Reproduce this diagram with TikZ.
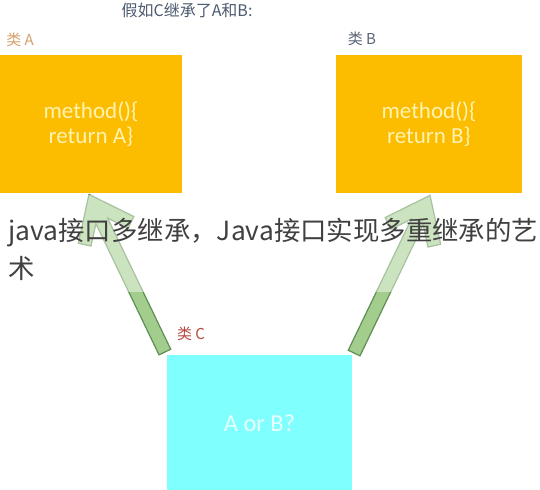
\documentclass[tikz,border=0pt]{standalone}
\usepackage{fontspec}
\setmainfont{Carlito}
\newfontfamily\cjk{Noto Sans CJK SC}
\usepackage{tikz}
\usetikzlibrary{calc}
\definecolor{boxorange}{HTML}{FCBC00}
\definecolor{boxcyan}{HTML}{80FFFF}
\definecolor{arrowgreen}{HTML}{A2CD8C}
\definecolor{arrowline}{HTML}{5F8F55}
\definecolor{titlegrey}{HTML}{4C5A6E}
\definecolor{labelA}{HTML}{D4A06A}
\definecolor{labelB}{HTML}{5A6475}
\definecolor{labelC}{HTML}{B5483F}
\definecolor{methodtext}{HTML}{FFF3B0}
\definecolor{ortext}{HTML}{E8FFFF}

\begin{document}
\begin{tikzpicture}[x=0.5pt,y=-0.5pt,
	classbox/.style={inner sep=0pt,align=center,font=\fontsize{11.5}{12.5}\selectfont},
	classlabel/.style={inner sep=0pt,font=\cjk\fontsize{7.5}{9}\selectfont},
	fatarrow/.style={fill=arrowgreen,draw=arrowline,line width=0.6pt,line join=miter}]
			\useasboundingbox (0,0) rectangle (540,490);
			%title
			\node[classlabel,text=titlegrey,font=\cjk\fontsize{8}{9}\selectfont] (title) at (187,10) {假如C继承了A和B:};
			
			%classes
			\node[classbox,fill=boxorange,text=methodtext,minimum width=91pt,minimum height=69pt] (boxA) at (91,124) {method()\{\\return A\}};
			\node[classbox,fill=boxorange,text=methodtext,minimum width=93pt,minimum height=69pt] (boxB) at (429,124) {method()\{\\return B\}};
			\node[classbox,fill=boxcyan,text=ortext,font=\fontsize{12.2}{14}\selectfont,minimum width=92.5pt,minimum height=68.5pt] (boxC) at (259.5,423.5) {A or B?};
			\node[classlabel,text=labelA] (labA) at (20,40) {类 A};
			\node[classlabel,text=labelB] (labB) at (362,39) {类 B};
			\node[classlabel,text=labelC] (labC) at (191,334) {类 C};
			
			%arrows C -> A, C -> B
			\coordinate (tipA) at ($(boxA.south)+(-2,1)$);
			\coordinate (tipB) at ($(boxB.south)+(1,2)$);
			\foreach \tip/\ang in {tipA/25.7,tipB/-25.7}{
				\begin{scope}[shift={(\tip)},rotate=\ang]
				\draw[fatarrow] (0,0) -- (30.8,39.4) -- (20.56,47.41) -- (6.5,29.4) -- (6.5,175)
					-- (-6.5,175) -- (-6.5,29.4) -- (-20.56,47.41) -- (-30.8,39.4) -- cycle;
				\end{scope}
			}
			
			%watermark
			\fill[white,opacity=0.45] (0,195) rectangle (540,292);
			\node[anchor=north west,align=left,inner sep=0pt,text=black!75,font=\cjk\fontsize{13.2}{19}\selectfont] (mark) at (8,218) {java接口多继承，Java接口实现多重继承的艺\\术};
\end{tikzpicture}
\end{document}
